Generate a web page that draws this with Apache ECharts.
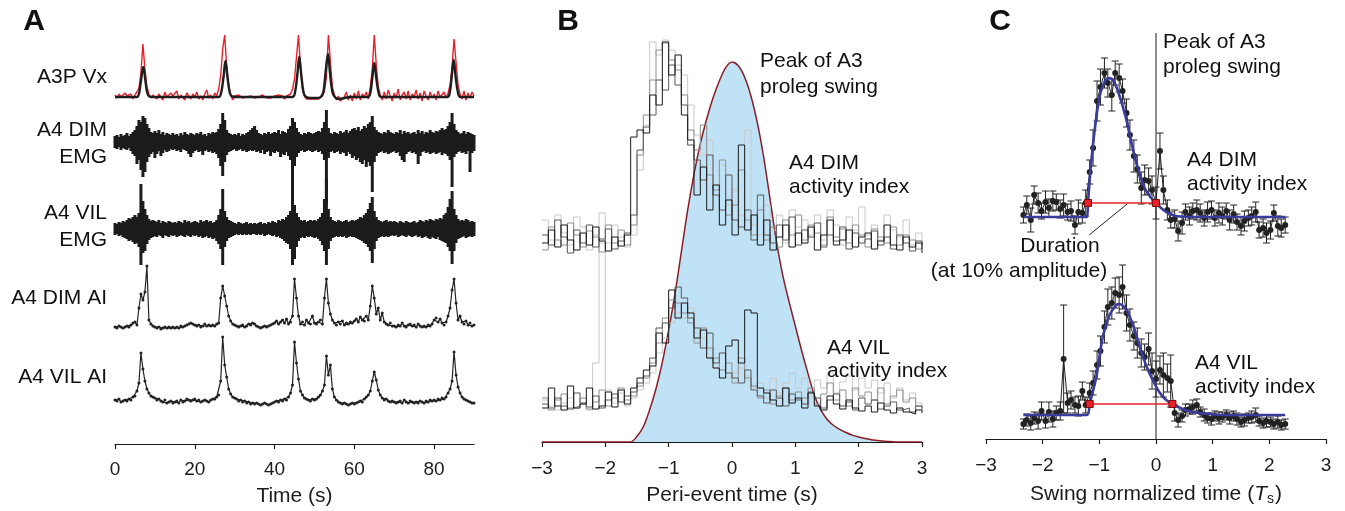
<!DOCTYPE html>
<html>
<head>
<meta charset="utf-8">
<script src="https://cdn.jsdelivr.net/npm/echarts@6/dist/echarts.min.js"></script>
<style>
  html, body { margin: 0; padding: 0; background: #fff; }
  #chart { width: 1345px; height: 511px; }
</style>
</head>
<body>
<div id="chart"></div>
<script>
// ---------- panel A: 90 s recording, one value every 0.5 s ----------
const aStep = 0.5
const aTicks = [0, 20, 40, 60, 80]
const vxRed = [
  2,-1,3,0,-2,4,1,-1,3,-2, 2,5,9,24,53,28,10,3,-1,2, 4,-2,3,1,-3,5,0,-2,4,1,
  -1,6,-2,2,0,-3,4,1,-2,3, 0,5,-2,1,-3,3,7,-1,2,-2, 4,1,8,22,48,62,30,12,2,-3,
  1,-1,2,0,-1,1,0,-2,1,0, -1,1,0,-1,2,0,-1,1,-1,0, 1,-1,2,0,1,-2,1,0,3,8,
  18,40,62,30,8,1,-2,-3,-2,-3, -2,-1,-2,0,1,6,20,62,35,10, 2,-3,1,-4,-2,0,5,-3,2,-4,
  4,-2,6,-3,3,0,5,-2,10,28, 62,32,10,2,-3,5,-2,7,1,-4, 4,-1,8,-3,2,5,-2,6,-3,3,
  0,7,-2,4,-4,6,1,-3,5,-1, 3,-3,6,0,-2,5,-1,4,12,30, 58,35,12,3,-2,6,-3,4,-1,5, 1
]
const vxBlack = [
  [0,0],[5.5,0],[6,3],[6.5,16],[7.1,30],[7.6,17],[8.1,4],[8.6,0.5],[9.5,0],
  [26,0],[26.6,4],[27.2,20],[27.7,36],[28.2,20],[28.8,4],[29.4,0.5],[30.5,0],
  [44.5,0],[45.1,4],[45.7,22],[46.2,40],[46.7,22],[47.3,4],[47.9,0],[49,-1],[51,-1],
  [51.8,1],[52.3,6],[52.8,25],[53.4,43],[53.9,24],[54.5,5],[55.1,0],[56,-2],[57.5,-1],[59,0],
  [63.4,0],[64,4],[64.5,19],[65,34],[65.5,19],[66.1,4],[66.7,0],
  [83.3,0],[83.9,4],[84.4,20],[84.9,37],[85.4,20],[86,4],[86.6,0],[90,0]
]
const dimEmgHi = [
  6,7,5,8,6,7,9,6,8,10, 12,16,22,20,26,24,18,14,10,9, 11,9,12,8,10,7,9,8,7,9,
  7,8,6,9,7,10,8,7,9,8, 7,9,8,10,7,8,6,9,8,10, 9,10,13,18,29,22,12,9,8,7,
  8,7,9,6,8,7,9,10,12,14, 16,12,9,8,7,9,8,10,8,9, 10,9,12,8,11,10,9,13,16,24,
  20,14,10,8,7,9,8,10,9,8, 9,10,11,10,14,20,32,14,9,8, 10,9,8,11,9,10,12,9,11,13,
  14,12,15,11,13,16,14,18,20,26, 15,12,10,9,8,10,9,12,10,9, 8,10,9,12,8,11,9,10,8,9,
  10,8,12,9,11,8,10,9,12,10, 9,11,10,12,14,12,13,16,20,29, 18,12,10,8,9,11,8,10,9,8, 7
]
const dimEmgLo = [
  -6,-7,-5,-8,-6,-7,-8,-6,-9,-12, -14,-22,-18,-28,-35,-30,-20,-15,-12,-10, -16,-12,-9,-14,-11,-8,-10,-9,-7,-8,
  -7,-9,-8,-10,-7,-8,-9,-12,-15,-11, -9,-8,-10,-9,-13,-9,-8,-10,-9,-11, -10,-12,-16,-24,-34,-20,-13,-10,-9,-8,
  -7,-9,-8,-7,-9,-8,-10,-9,-8,-9, -8,-10,-9,-11,-8,-12,-10,-9,-14,-10, -11,-9,-10,-15,-12,-13,-10,-14,-18,-62,
  -24,-15,-11,-9,-8,-10,-9,-8,-9,-10, -9,-8,-10,-9,-12,-18,-62,-16,-10,-9, -11,-10,-9,-12,-10,-11,-14,-10,-12,-16,
  -14,-18,-16,-20,-22,-18,-25,-20,-24,-50, -20,-14,-11,-10,-9,-11,-10,-12,-11,-10, -9,-11,-10,-14,-18,-20,-12,-10,-9,-11,
  -10,-12,-22,-14,-10,-9,-11,-10,-12,-11, -10,-12,-11,-10,-13,-11,-12,-14,-18,-45, -15,-12,-10,-9,-11,-10,-12,-9,-30,-11, -9
]
const vilEmgHi = [
  6,5,7,6,8,7,9,11,10,12, 14,12,16,45,28,20,14,10,8,9, 8,7,9,6,8,7,6,8,7,6,
  7,6,8,7,6,9,7,8,6,7, 8,7,6,9,7,8,9,7,8,6, 7,9,14,20,40,18,12,9,8,7,
  6,5,7,6,5,6,7,5,6,5, 6,5,6,7,5,6,5,7,6,8, 7,6,9,8,10,9,12,14,18,50,
  24,16,12,9,8,9,7,8,9,8, 9,8,10,12,16,30,50,20,12,9, 8,7,9,8,7,8,9,7,8,9,
  8,9,10,12,11,14,16,20,26,32, 18,12,9,8,7,8,9,7,8,7, 8,7,6,8,7,6,8,7,6,7,
  8,6,7,9,8,7,9,8,10,9, 8,10,9,11,10,14,16,22,30,38, 20,14,10,8,9,8,10,9,7,8, 7
]
const vilEmgLo = [
  -6,-5,-7,-6,-8,-9,-10,-12,-11,-13, -15,-14,-18,-36,-24,-22,-15,-11,-9,-8, -7,-8,-6,-7,-9,-6,-7,-8,-6,-7,
  -6,-8,-7,-6,-7,-8,-6,-7,-8,-6, -7,-6,-8,-7,-9,-8,-7,-9,-8,-10, -9,-12,-15,-20,-36,-18,-12,-9,-8,-7,
  -6,-5,-6,-5,-6,-5,-6,-5,-6,-5, -5,-6,-5,-6,-5,-7,-6,-5,-6,-7, -6,-8,-7,-9,-10,-12,-14,-15,-20,-36,
  -30,-18,-12,-9,-8,-9,-7,-8,-7,-8, -9,-8,-10,-12,-16,-22,-36,-20,-12,-9, -8,-7,-8,-7,-8,-7,-9,-8,-7,-8,
  -8,-9,-10,-11,-12,-14,-15,-18,-22,-34, -20,-12,-9,-8,-7,-8,-7,-8,-7,-6, -7,-6,-8,-7,-6,-7,-8,-6,-7,-8,
  -7,-6,-8,-7,-9,-8,-7,-9,-10,-8, -9,-10,-8,-11,-12,-13,-14,-18,-22,-35, -22,-14,-10,-9,-8,-7,-9,-8,-7,-8, -7
]
const dimAI = [
  1,0,2,1,0,1,2,1,3,5, 6,3,20,34,28,36,62,8,4,2, 1,0,1,-1,0,1,0,1,0,1,
  0,1,0,2,1,2,3,4,5,4, 3,2,3,1,2,4,2,3,2,3, 2,4,5,30,42,32,22,12,7,4,
  3,2,1,2,3,1,2,4,3,5, 4,2,1,0,1,2,1,2,3,4, 5,7,4,6,8,5,9,4,6,12,
  49,30,12,4,6,3,8,5,4,12, 5,4,6,8,4,30,49,25,14,8, 5,3,6,4,7,3,5,4,6,5,
  7,9,6,11,8,7,12,8,22,42, 30,14,20,8,15,6,4,3,5,2, 2,1,3,2,5,2,1,3,4,2,
  3,1,4,2,1,2,1,3,2,4, 8,10,6,9,5,3,6,12,20,38, 49,25,8,12,6,4,7,3,5,2, 3
]
const vilAI = [
  5,4,6,3,4,5,4,6,5,8, 9,14,22,52,36,24,16,12,9,8, 7,5,6,4,3,5,2,3,4,2,
  3,4,2,5,3,4,6,5,4,5, 6,4,5,3,4,5,4,3,5,6, 6,8,10,24,68,40,28,16,11,8,
  7,6,4,5,3,4,2,3,1,2, 1,2,1,0,1,2,1,0,1,2, 3,4,3,5,4,6,5,8,12,20,
  63,42,26,14,10,7,6,5,4,6, 5,6,8,10,14,20,49,30,40,16, 8,5,3,2,1,2,1,0,1,2,
  1,2,3,4,3,6,8,10,14,24, 33,25,15,10,7,5,6,4,3,4, 3,2,3,4,2,5,3,2,4,3,
  2,3,2,4,3,2,4,3,5,4, 5,4,6,5,7,6,8,12,16,24, 53,30,18,12,8,6,5,4,3,2, 2
]

// ---------- panel B: peri-event histograms, 0.1 s bins from -3 s ----------
const bStart = -3
const bStep = 0.1
const swingPeak = [
  0,0,0,0,0,0,0,0,0,0,0,0,0,0,0,
  1.5,4,8.5,14,21,29.5,39,50,61,70.5,78.5,85,90.5,95,98.5,100,
  99,96,91,84,75,64,53,44,37,30.5,24,18,12.3,8.5,6,4.4,3.3,2.5,1.8,1.3,0.9,0.6,0.4,0.2,0.1,
  0,0,0,0,0
]
const bDim1 = [12,25,8,30,15,5,22,10,28,14,4,18,9,20, 118,125,122,160,150,213,180, 200,140,115,60,88,45,70,30,55,20, 110,25,40,10,35,5,18,30,8,22, 12,28,5,20,35,10,15,25,8,18, 22,6,14,30,10,5,18,8,12,2]
const bDim2 = [20,10,35,18,2,25,12,30,8,16,26,6,14,22, 40,105,128,140,175,165,190, 170,150,110,95,75,100,60,45,80,35, 28,45,15,60,20,12,30,15,38,10, 25,18,32,8,20,14,28,6,22,12, 16,24,10,18,6,20,12,4,14,10]
const bDim3 = [5,28,15,10,32,20,8,24,18,3,30,12,25,10, 30,100,140,175,205,212,195, 185,160,125,105,130,80,65,95,40,50, 85,35,20,45,15,28,8,35,20,40, 15,30,22,10,38,18,26,12,30,20, 8,26,18,12,28,10,20,15,6,14]
const bDim4 = [35,15,40,22,10,38,28,5,20,42,12,30,18,8, 20,85,130,213,200,215,205, 190,180,150,120,100,115,70,90,50,65, 40,125,30,20,50,25,40,12,45,28, 35,20,40,15,45,30,10,38,25,48, 20,30,15,40,25,18,35,10,22,12]
const bVil1 = [10,30,12,8,32,10,14,30,9,12,26,11,28,14, 30,40,48,52,85,75,128, 100,115,105,80,88,60,50,40,72,78, 55,108,105,30,25,18,12,30,15,20, 10,25,12,8,22,14,9,18,10,7, 12,6,15,8,5,10,6,4,8,5]
const bVil2 = [14,10,20,12,9,25,15,11,22,10,18,24,16,22, 26,35,42,60,90,95,110, 131,120,100,90,70,85,55,65,45,40, 35,48,28,22,15,28,20,12,24,18, 14,26,20,10,18,24,12,16,8,20, 14,18,9,12,16,8,10,6,12,8]
const bVil3 = [20,8,18,24,10,12,20,9,16,28,12,20,30,18, 22,32,40,55,75,100,118, 115,105,95,75,90,70,60,48,55,35, 60,40,32,20,28,14,22,30,18,26, 20,30,14,24,35,18,28,12,30,22, 26,18,30,14,22,28,16,20,12,10]
const bVil4 = [18,12,8,15,20,10,14,8,55,175,28,15,25,12, 20,28,35,45,65,80,95, 105,100,110,85,80,60,50,65,40,45, 50,42,30,35,20,40,25,35,45,30, 40,22,38,30,45,25,36,42,28,40, 30,38,25,35,20,30,18,25,15,12]

// ---------- panel C: swing-normalised averages ----------
const cX = [
  -2.34,-2.28,-2.21,-2.15,-2.08,-2.02,-1.95,-1.89,-1.82,-1.76,
  -1.69,-1.63,-1.56,-1.50,-1.43,-1.37,-1.30,-1.24,-1.17,-1.11,
  -1.04,-0.98,-0.91,-0.85,-0.78,-0.72,-0.65,-0.59,-0.52,-0.46,
  -0.39,-0.33,-0.26,-0.20,-0.13,-0.07,0.00,0.07,0.13,0.20,
  0.26,0.33,0.39,0.46,0.52,0.59,0.65,0.72,0.78,0.85,
  0.91,0.98,1.04,1.11,1.17,1.24,1.30,1.37,1.43,1.50,
  1.56,1.63,1.69,1.76,1.82,1.89,1.95,2.02,2.08,2.15,
  2.21,2.28
]
const cDim = [
  2,12,-3,22,14,6,15,9,16,15, 8,12,5,6,-8,5,4,14,45,69,
  116,130,144,134,122,144,139,126,104,82, 61,48,29,37,36,27,14,66,27,7,
  -3,-2,-14,-6,5,1,6,7,4,-1, 5,7,-1,4,1,6,-3,3,-5,-9,
  -4,-1,1,5,-13,-11,-16,-13,4,-9, -11,-8
]
const cDimErr = [
  8,9,12,9,10,8,11,9,10,8, 9,11,8,10,9,12,10,13,12,18,
  20,18,15,14,16,12,14,12,14,15, 16,14,16,15,13,14,16,18,14,10,
  8,9,10,11,8,9,8,10,9,8, 10,9,8,10,9,8,10,9,8,9,
  10,8,9,10,8,9,10,9,8,10, 9,8
]
const cDimFit = [
  [-2.34,0],[-1.22,0],[-1.2,14],[-1.15,51],[-1.06,97],[-0.98,124],[-0.89,137],[-0.82,139],
  [-0.75,136],[-0.66,124],[-0.54,101],[-0.42,71],[-0.31,47],[-0.2,29],[-0.1,20],[0,14],
  [0.09,9],[0.18,5],[0.27,2.5],[0.35,1],[0.5,0.3],[0.64,0],[2.28,0]
]
const cDimDuration = [[-1.2, 14], [0, 14]]
const cVil = [
  -9,-5,-8,-3,-6,4,-6,3,-4,2, 4,56,12,15,10,9,24,10,22,32,
  50,64,88,108,112,122,120,128,102,90, 79,72,62,58,66,44,36,45,40,37,
  34,2,-5,-1,5,6,8,10,3,0, -3,-4,-1,-3,-2,0,-3,-1,-4,-7,
  -5,-3,-2,0,-6,-8,-6,-7,-9,-7, -10,-9
]
const cVilErr = [
  5,6,7,6,8,9,7,10,8,7, 9,54,10,9,8,10,9,8,10,12,
  14,15,16,18,16,15,18,22,18,16, 14,15,14,13,16,18,18,14,22,14,
  26,8,7,6,6,5,7,6,5,6, 5,6,5,6,5,5,6,5,6,5,
  6,5,6,7,5,5,6,5,5,6, 5,5
]
const cVilFit = [
  [-2.34,0],[-1.22,0],[-1.17,11],[-1.05,39],[-0.94,78],[-0.82,100],[-0.7,110],[-0.64,111],
  [-0.52,105],[-0.4,89],[-0.29,69],[-0.17,49],[-0.05,34],[0.07,22],[0.18,15],[0.29,11],
  [0.47,6],[0.64,3],[0.94,1],[1.23,0],[2.28,0]
]
const cVilDuration = [[-1.17, 11], [0.29, 11]]
const durationPointer = [[-1.18, -18], [-0.51, 13]]

// ---------- chart ----------
const FONT = '"Liberation Sans", Arial, Helvetica, sans-serif'
const INK = '#1c1c1c'
const myChart = echarts.init(document.getElementById('chart'))

const minus = v => (v < 0 ? '\u2212' + Math.abs(v) : String(v))

const grids = [
  { left: 115, width: 359, top: 30, height: 75 },   // 0 A3P Vx
  { left: 115, width: 359, top: 107, height: 100 }, // 1 DIM EMG
  { left: 115, width: 359, top: 174, height: 95 },  // 2 VIL EMG
  { left: 115, width: 359, top: 263, height: 70 },  // 3 DIM AI
  { left: 115, width: 359, top: 335, height: 109 }, // 4 VIL AI + time axis
  { left: 542, width: 380, top: 62, height: 381 },  // 5 swing peak + axis
  { left: 542, width: 380, top: 35, height: 230 },  // 6 B DIM traces
  { left: 542, width: 380, top: 230, height: 188 }, // 7 B VIL traces
  { left: 986, width: 340, top: 33, height: 410 },  // 8 C axis
  { left: 986, width: 340, top: 57, height: 190 },  // 9 C DIM
  { left: 986, width: 340, top: 245, height: 190 }  // 10 C VIL
]
const yRanges = [[-8, 67], [-65, 35], [-40, 55], [-5, 65], [-39, 70], [0, 100], [-10, 220], [0, 188], [0, 1], [-30, 160], [-20, 170]]

const shownAxis = (extra) => Object.assign({
  type: 'value',
  axisLine: { show: true, onZero: false, lineStyle: { color: INK, width: 1.2 } },
  axisTick: { show: true, length: 5, lineStyle: { color: INK, width: 1.2 } },
  axisLabel: { color: INK, fontSize: 19, fontFamily: FONT, margin: 17, formatter: minus },
  splitLine: { show: false },
  nameLocation: 'middle',
  nameGap: 43,
  nameTextStyle: { color: INK, fontSize: 21, fontFamily: FONT }
}, extra)

const xAxes = grids.map((g, i) => {
  if (i === 4) return shownAxis({
    gridIndex: i, min: 0, max: 90, interval: 20, name: 'Time (s)', nameGap: 42,
    axisTick: { show: true, length: 5, lineStyle: { color: INK, width: 1.2 }, customValues: aTicks },
    axisLabel: { color: INK, fontSize: 19, fontFamily: FONT, margin: 16, customValues: aTicks }
  })
  if (i === 5) return shownAxis({ gridIndex: i, min: -3, max: 3, interval: 1, name: 'Peri-event time (s)' })
  if (i === 8) return shownAxis({
    gridIndex: i, min: -3, max: 3, interval: 1,
    name: '{n|Swing normalized time (}{it|T}{sub|s}{n|)}',
    nameTextStyle: {
      color: INK, fontSize: 21, fontFamily: FONT,
      rich: {
        n: { fontSize: 21, fontFamily: FONT, color: INK },
        it: { fontSize: 21, fontFamily: FONT, fontStyle: 'italic', color: INK },
        sub: { fontSize: 14, fontFamily: FONT, color: INK, padding: [10, 1, 0, 0] }
      }
    }
  })
  const r = i <= 4 ? [0, 90] : [-3, 3]
  return { type: 'value', gridIndex: i, min: r[0], max: r[1], show: false }
})
const yAxes = grids.map((g, i) => ({ type: 'value', gridIndex: i, min: yRanges[i][0], max: yRanges[i][1], show: false }))

const emgBand = (params, api) => {
  const t = api.value(0)
  const top = api.coord([t - aStep / 2, api.value(1)])
  const bot = api.coord([t + aStep / 2, api.value(2)])
  return { type: 'rect', shape: { x: top[0] - 0.5, y: top[1], width: bot[0] - top[0] + 1, height: bot[1] - top[1] }, style: { fill: INK } }
}
const errorBars = (params, api) => {
  const x = api.value(0), v = api.value(1), e = api.value(2)
  const hi = api.coord([x, v + e]), lo = api.coord([x, v - e])
  const cap = 3.5
  const st = { stroke: '#222', lineWidth: 1 }
  return { type: 'group', children: [
    { type: 'line', shape: { x1: hi[0], y1: hi[1], x2: lo[0], y2: lo[1] }, style: st },
    { type: 'line', shape: { x1: hi[0] - cap, y1: hi[1], x2: hi[0] + cap, y2: hi[1] }, style: st },
    { type: 'line', shape: { x1: lo[0] - cap, y1: lo[1], x2: lo[0] + cap, y2: lo[1] }, style: st }
  ] }
}

const aSeries = (vals) => vals.map((v, i) => [i * aStep, v])
const bSeries = (vals) => vals.map((v, k) => [bStart + k * bStep, v])
const traceLine = (idx, vals, color, extra) => Object.assign({
  type: 'line', xAxisIndex: idx, yAxisIndex: idx, data: vals,
  showSymbol: false, lineStyle: { color: color, width: 1 }, itemStyle: { color: color }, silent: true
}, extra)

const bColors = ['#c8c8c8', '#8f8f8f', '#585858', '#1a1a1a']

const series = [
  traceLine(0, aSeries(vxRed), '#e8202a', { lineStyle: { color: '#e8202a', width: 1.4 } }),
  traceLine(0, vxBlack, '#1e1e1e', { smooth: 0.4, lineStyle: { color: '#1e1e1e', width: 2.4 } }),
  { type: 'custom', xAxisIndex: 1, yAxisIndex: 1, renderItem: emgBand,
    data: dimEmgHi.map((v, i) => [i * aStep, v, dimEmgLo[i]]), silent: true },
  { type: 'custom', xAxisIndex: 2, yAxisIndex: 2, renderItem: emgBand,
    data: vilEmgHi.map((v, i) => [i * aStep, v, vilEmgLo[i]]), silent: true },
  traceLine(3, aSeries(dimAI), '#222', { showSymbol: true, symbol: 'circle', symbolSize: 3, lineStyle: { color: '#222', width: 1.2 } }),
  traceLine(4, aSeries(vilAI), '#222', { showSymbol: true, symbol: 'circle', symbolSize: 3, lineStyle: { color: '#222', width: 1.2 } }),

  traceLine(5, bSeries(swingPeak), '#8a1c24', {
    smooth: 0.3, z: 1, lineStyle: { color: '#8a1c24', width: 1.5 },
    areaStyle: { color: '#c0e2f6', opacity: 1 }
  }),
  ...[bDim4, bDim3, bDim2, bDim1].map((d, j) => traceLine(6, bSeries(d), bColors[j], { step: 'end', z: 3 + j })),
  ...[bVil4, bVil3, bVil2, bVil1].map((d, j) => traceLine(7, bSeries(d), bColors[j], { step: 'end', z: 3 + j })),

  traceLine(8, [[0, 0], [0, 1]], INK, { lineStyle: { color: INK, width: 1 } }),

  { type: 'custom', xAxisIndex: 9, yAxisIndex: 9, renderItem: errorBars, silent: true, z: 3,
    data: cX.map((x, i) => [x, cDim[i], cDimErr[i]]) },
  traceLine(9, cX.map((x, i) => [x, cDim[i]]), '#222', { showSymbol: true, symbol: 'circle', symbolSize: 6, z: 4 }),
  traceLine(9, cDimFit, '#3a3c9c', { smooth: 0.25, z: 5, lineStyle: { color: '#3a3c9c', width: 2.6 } }),
  traceLine(9, cDimDuration, '#e8202a', {
    z: 6, showSymbol: true, symbol: 'rect', symbolSize: 7,
    lineStyle: { color: '#e8202a', width: 1.5 },
    itemStyle: { color: '#e8202a', borderColor: '#7a0c0c', borderWidth: 1 }
  }),
  traceLine(9, durationPointer, '#222', { z: 6, lineStyle: { color: '#222', width: 1 } }),

  { type: 'custom', xAxisIndex: 10, yAxisIndex: 10, renderItem: errorBars, silent: true, z: 3,
    data: cX.map((x, i) => [x, cVil[i], cVilErr[i]]) },
  traceLine(10, cX.map((x, i) => [x, cVil[i]]), '#222', { showSymbol: true, symbol: 'circle', symbolSize: 6, z: 4 }),
  traceLine(10, cVilFit, '#3a3c9c', { smooth: 0.25, z: 5, lineStyle: { color: '#3a3c9c', width: 2.6 } }),
  traceLine(10, cVilDuration, '#e8202a', {
    z: 6, showSymbol: true, symbol: 'rect', symbolSize: 7,
    lineStyle: { color: '#e8202a', width: 1.5 },
    itemStyle: { color: '#e8202a', borderColor: '#7a0c0c', borderWidth: 1 }
  })
]

const label = (text, x, y, align, size, bold) => ({
  type: 'text', x: x, y: y, silent: true, z: 100,
  style: {
    text: text, fill: '#111', align: align || 'left', verticalAlign: 'middle',
    font: (bold ? 'bold ' : '') + (size || 21) + 'px ' + FONT
  }
})

const texts = [
  label('A', 34, 22, 'center', 30, true),
  label('B', 568, 22, 'center', 30, true),
  label('C', 1000, 22, 'center', 30, true),
  label('A3P Vx', 107, 77, 'right'),
  label('A4 DIM', 107, 130, 'right'),
  label('EMG', 107, 157, 'right'),
  label('A4 VIL', 107, 213, 'right'),
  label('EMG', 107, 240, 'right'),
  label('A4 DIM AI', 107, 298, 'right'),
  label('A4 VIL AI', 107, 377, 'right'),
  label('Peak of A3', 760, 61),
  label('proleg swing', 760, 87),
  label('A4 DIM', 789, 163),
  label('activity index', 789, 187),
  label('A4 VIL', 827, 348),
  label('activity index', 827, 371),
  label('Peak of A3', 1163, 42),
  label('proleg swing', 1163, 67),
  label('A4 DIM', 1187, 160),
  label('activity index', 1187, 184),
  label('Duration', 1060, 246, 'center'),
  label('(at 10% amplitude)', 1019, 271, 'center'),
  label('A4 VIL', 1195, 363),
  label('activity index', 1195, 387)
]

const option = {
  animation: false,
  backgroundColor: '#ffffff',
  textStyle: { fontFamily: FONT },
  grid: grids,
  xAxis: xAxes,
  yAxis: yAxes,
  series: series,
  graphic: texts
}
myChart.setOption(option)
window.addEventListener('resize', () => myChart.resize())
</script>
</body>
</html>
